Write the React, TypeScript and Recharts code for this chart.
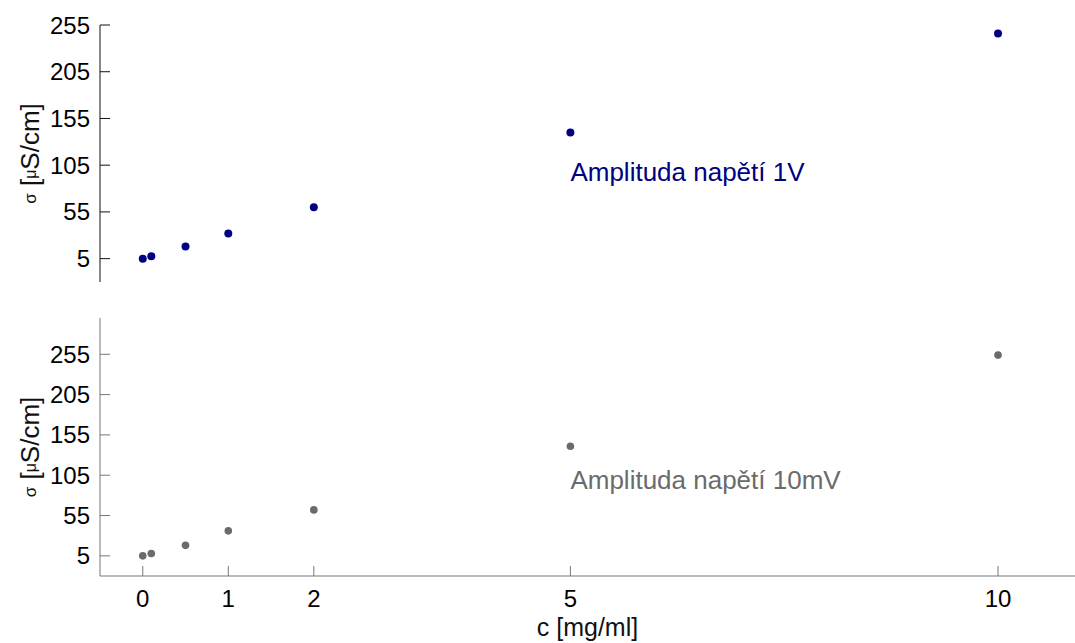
import { ReferenceDot, Scatter, ScatterChart, XAxis, YAxis } from "recharts";

// concentration c [mg/ml] and measured conductivity σ [μS/cm]
const concentration = [0, 0.1, 0.5, 1, 2, 5, 10];
const sigma1V = [5, 7.5, 18, 32, 60, 140, 246];
const sigma10mV = [5, 8, 18, 36, 62, 141, 254];

const xTicks = [0, 1, 2, 5, 10];
const yTicks = [5, 55, 105, 155, 205, 255];

const NAVY = "#000080";
const GREY = "#6b6b6b";
const FONT = '"Liberation Sans", Arial, sans-serif';

const data1V = concentration.map((c, i) => ({ c, sigma: sigma1V[i] }));
const data10mV = concentration.map((c, i) => ({ c, sigma: sigma10mV[i] }));

const dot = (color: string, r: number) => (props: any) => (
  <circle cx={props.cx} cy={props.cy} r={r} fill={color} />
);

const yLabel = (props: any) => {
  const vb = props.viewBox ?? { x: 0, y: 0, width: 0, height: 0 };
  const cx = 30;
  const cy = vb.y + vb.height / 2;
  return (
    <text
      x={cx}
      y={cy}
      transform={`rotate(-90 ${cx} ${cy})`}
      textAnchor="middle"
      dominantBaseline="central"
      fontSize={26}
      fill="#111"
    >
      <tspan fontSize={17}>σ</tspan>
      <tspan> [</tspan>
      <tspan fontSize={16}>μ</tspan>
      <tspan>S/cm]</tspan>
    </text>
  );
};

const note = (text: string, color: string) => (props: any) => {
  const vb = props.viewBox;
  if (!vb) return null;
  return (
    <text x={vb.x} y={vb.y} fill={color} fontSize={26} textAnchor="start">
      {text}
    </text>
  );
};

export default function App() {
  return (
    <div style={{ position: "absolute", left: 0, top: 0, width: 1075, height: 643, background: "#fff", fontFamily: FONT }}>
      <ScatterChart width={1075} height={300} margin={{ top: 25, right: 0, bottom: 18, left: 0 }}>
        <XAxis
          type="number"
          dataKey="c"
          domain={[-0.5, 10.9]}
          ticks={xTicks}
          allowDataOverflow
          height={0}
          tick={false}
          tickLine={false}
          axisLine={{ stroke: "#111" }}
        />
        <YAxis
          type="number"
          dataKey="sigma"
          domain={[-20, 255]}
          ticks={yTicks}
          allowDataOverflow
          width={100}
          tickSize={-10}
          tickMargin={20}
          tick={{ fontSize: 24, fill: "#000" }}
          tickLine={{ stroke: "#111" }}
          axisLine={{ stroke: "#111" }}
          label={{ content: yLabel }}
        />
        <Scatter data={data1V} shape={dot(NAVY, 4)} isAnimationActive={false} />
        <ReferenceDot x={5} y={88} r={0} fill="none" stroke="none" label={{ content: note("Amplituda napětí 1V", NAVY) }} />
      </ScatterChart>
      <ScatterChart width={1075} height={343} margin={{ top: 18, right: 0, bottom: 0, left: 0 }}>
        <XAxis
          type="number"
          dataKey="c"
          domain={[-0.5, 10.9]}
          ticks={xTicks}
          allowDataOverflow
          height={67}
          tickSize={-10}
          tickMargin={24}
          tick={{ fontSize: 24, fill: "#000" }}
          tickLine={{ stroke: "#777" }}
          axisLine={{ stroke: "#777" }}
          label={{
            content: (props: any) => {
              const vb = props.viewBox ?? { x: 100, y: 276, width: 975, height: 67 };
              return (
                <text x={vb.x + vb.width / 2} y={vb.y + 60} textAnchor="middle" fontSize={25} fill="#111">
                  c [mg/ml]
                </text>
              );
            },
          }}
        />
        <YAxis
          type="number"
          dataKey="sigma"
          domain={[-20, 300]}
          ticks={yTicks}
          allowDataOverflow
          width={100}
          tickSize={-10}
          tickMargin={20}
          tick={{ fontSize: 24, fill: "#000" }}
          tickLine={{ stroke: "#777" }}
          axisLine={{ stroke: "#777" }}
          label={{ content: yLabel }}
        />
        <Scatter data={data10mV} shape={dot(GREY, 3.8)} isAnimationActive={false} />
        <ReferenceDot x={5} y={88} r={0} fill="none" stroke="none" label={{ content: note("Amplituda napětí 10mV", GREY) }} />
      </ScatterChart>
    </div>
  );
}
